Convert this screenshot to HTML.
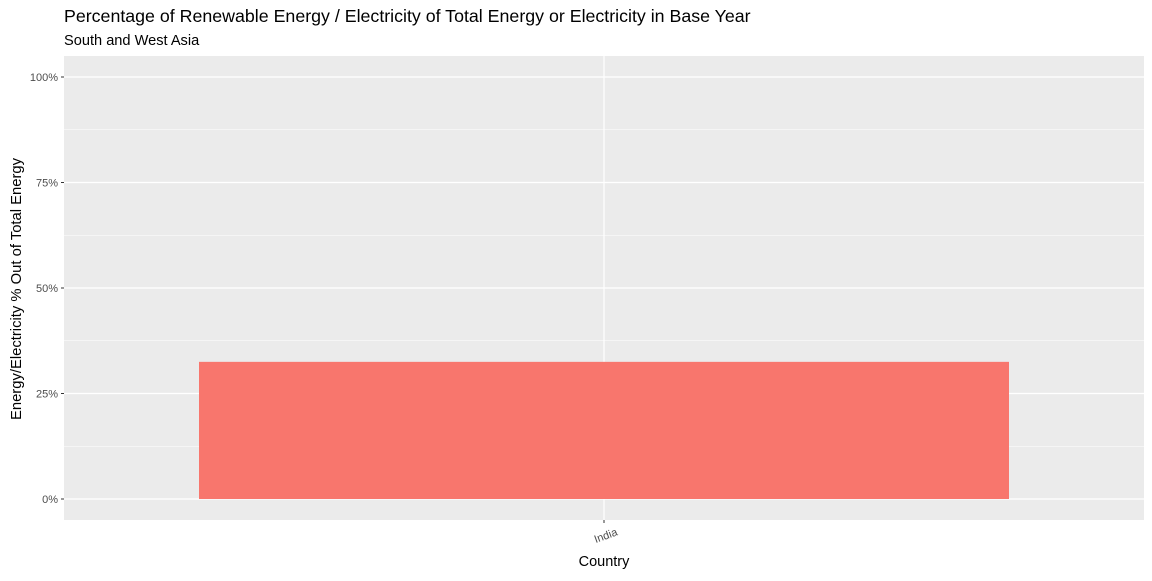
<!DOCTYPE html>
<html><head><meta charset="utf-8">
<style>
body{margin:0;background:#fff;font-family:"Liberation Sans",Arial,sans-serif;}
svg text{font-family:"Liberation Sans",Arial,sans-serif;}
</style></head>
<body>
<svg id="chart" width="1152" height="576" xmlns="http://www.w3.org/2000/svg">
<text x="64" y="22" font-size="17.8" fill="#000">Percentage of Renewable Energy / Electricity of Total Energy or Electricity in Base Year</text>
<text x="64" y="45" font-size="14.6" fill="#000">South and West Asia</text>
<rect x="64" y="56" width="1080" height="464" fill="#EBEBEB"/>
<g id="grid"></g>
<g id="bars"></g>
<g id="axes"></g>
<text x="604" y="566" font-size="14.5" text-anchor="middle" fill="#000">Country</text>
<text transform="translate(21,289) rotate(-90)" font-size="14.8" text-anchor="middle" fill="#000">Energy/Electricity % Out of Total Energy</text>
</svg>
<script>
const categories = ["India"];
const values = [32.5];
const yTicks = [0, 25, 50, 75, 100];
const yTickLabels = ["0%", "25%", "50%", "75%", "100%"];

const ns = "http://www.w3.org/2000/svg";
const px0 = 64, px1 = 1144, py0 = 56, py1 = 520;
const yScale = v => 499 - v * 4.22;
const band = (px1 - px0) / categories.length;
const xScale = i => px0 + band * (i + 0.5);
function mk(tag, attrs, parent){const e=document.createElementNS(ns,tag);for(const k in attrs)e.setAttribute(k,attrs[k]);parent.appendChild(e);return e;}
const grid = document.getElementById('grid'), bars = document.getElementById('bars'), axes = document.getElementById('axes');
for (let i = 0; i < yTicks.length - 1; i++) {
  const ym = yScale((yTicks[i] + yTicks[i+1]) / 2);
  const l = mk('line',{x1:px0,x2:px1,y1:ym,y2:ym,stroke:'#fff','stroke-width':0.6},grid);
  
  
}
yTicks.forEach((t, i) => {
  const y = yScale(t);
  const l = mk('line',{x1:px0,x2:px1,y1:y,y2:y,stroke:'#fff','stroke-width':1.2},grid);
  
  
  const tk = mk('line',{x1:px0-3,x2:px0,y1:y,y2:y,stroke:'#333','stroke-width':1},axes);
  
  
  const tx = mk('text',{x:px0-6,y:y+4,'font-size':11,'text-anchor':'end',fill:'#4D4D4D'},axes);
  tx.textContent = yTickLabels[i];
  
  
});
categories.forEach((c, i) => {
  const x = xScale(i);
  const vl = mk('line',{x1:x,x2:x,y1:py0,y2:py1,stroke:'#fff','stroke-width':1.2},grid);
  
  
  const w = band * 0.75;
  const r = mk('rect',{x:x-w/2,y:yScale(values[i]),width:w,height:yScale(0)-yScale(values[i]),fill:'#F8766D'},bars);
  
  
  const tk = mk('line',{x1:x,x2:x,y1:py1,y2:py1+3,stroke:'#333','stroke-width':1},axes);
  
  
  const tx = mk('text',{transform:`translate(${x+3},${py1+19}) rotate(-20)`,'font-size':11,'text-anchor':'middle',fill:'#4D4D4D'},axes);
  tx.textContent = c;
  
  
});
</script>
</body></html>
